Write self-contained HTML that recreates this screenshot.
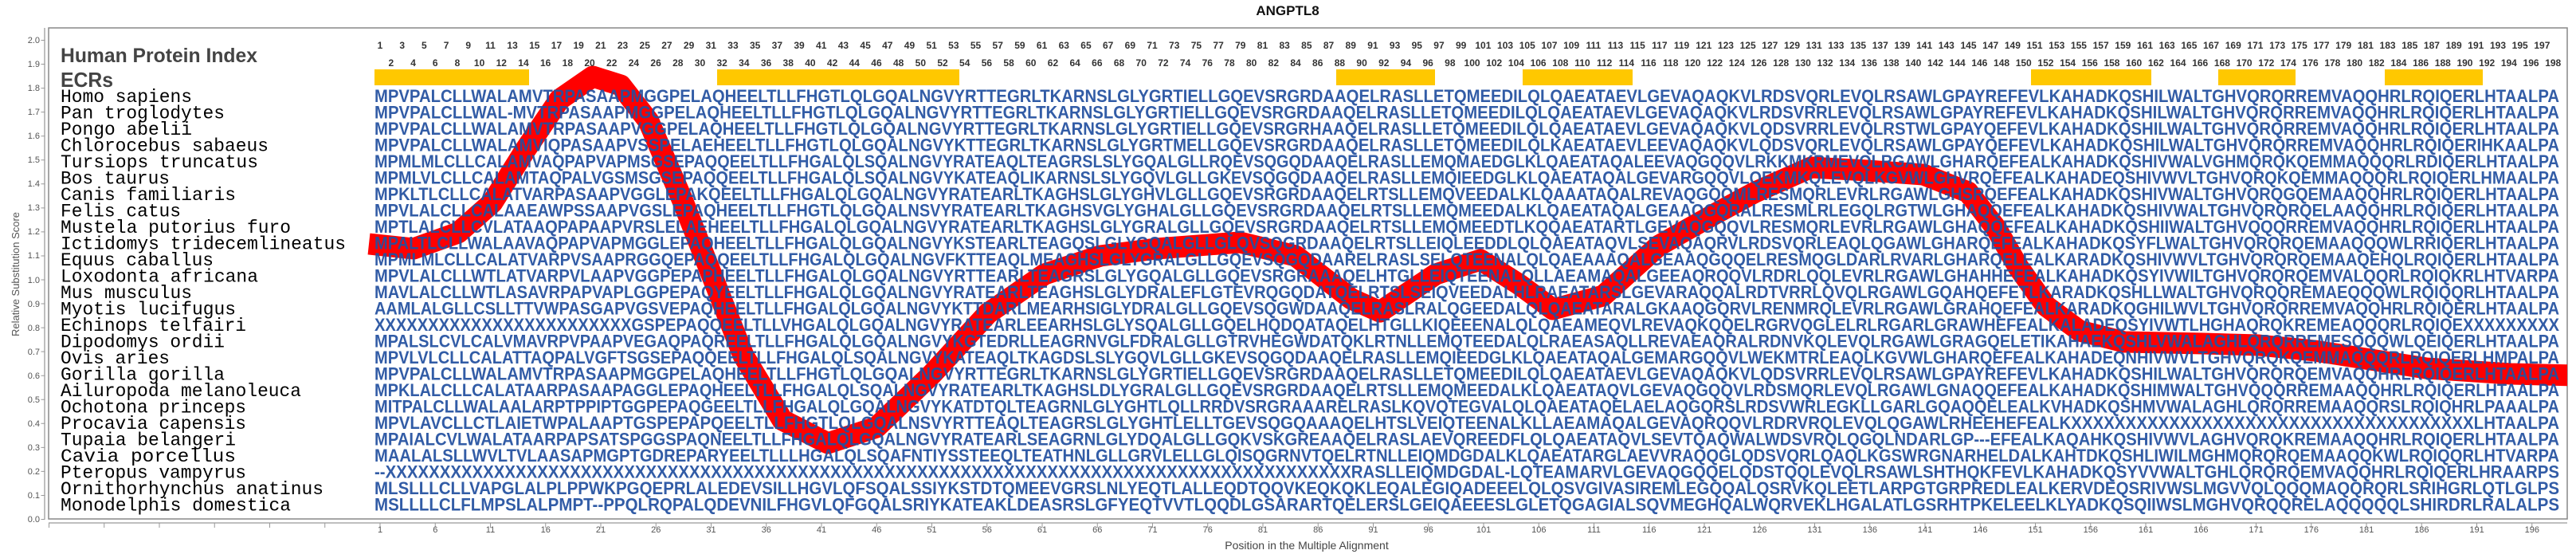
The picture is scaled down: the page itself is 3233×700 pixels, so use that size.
<!DOCTYPE html>
<html><head><meta charset="utf-8">
<style>
html,body{margin:0;padding:0;background:#fff;}
#w{position:relative;width:3233px;height:700px;overflow:hidden;}
svg{position:absolute;left:0;top:0;}
.lab{position:absolute;display:flex;font-family:"Liberation Sans",sans-serif;font-weight:bold;font-size:12px;color:#333;}
.lab span{display:block;width:27.7px;text-align:center;flex:none;}
.bl{position:absolute;display:flex;font-family:"Liberation Sans",sans-serif;font-size:11px;color:#555;top:659px;left:442.4px;}
.bl span{display:block;width:69.25px;text-align:center;flex:none;}
</style></head><body><div id="w">
<svg width="3233" height="700" viewBox="0 0 3233 700">
<defs><clipPath id="c"><rect x="61" y="35" width="3161" height="616"/></clipPath></defs>
<text x="1616" y="19" text-anchor="middle" font-family="Liberation Sans,sans-serif" font-weight="bold" font-size="17" fill="#111">ANGPTL8</text>
<rect x="61" y="35" width="3161" height="616" fill="none" stroke="#888" stroke-width="1.5"/>
<line x1="56" y1="35" x2="56" y2="651" stroke="#aaa" stroke-width="1.5"/>
<line x1="61" y1="656" x2="3222" y2="656" stroke="#aaa" stroke-width="1.5"/>
<line x1="54" y1="50" x2="54" y2="652" stroke="#999" stroke-width="5" stroke-dasharray="1 29.05"/>
<line x1="61" y1="659" x2="3190" y2="659" stroke="#999" stroke-width="6" stroke-dasharray="1 68.25"/>
<g font-family="Liberation Sans,sans-serif" font-size="11" fill="#555" text-anchor="end">
<text x="50" y="655">0.0</text><text x="50" y="625">0.1</text><text x="50" y="595">0.2</text><text x="50" y="565">0.3</text><text x="50" y="535">0.4</text><text x="50" y="505">0.5</text><text x="50" y="475">0.6</text><text x="50" y="445">0.7</text><text x="50" y="415">0.8</text><text x="50" y="385">0.9</text><text x="50" y="355">1.0</text><text x="50" y="324">1.1</text><text x="50" y="294">1.2</text><text x="50" y="264">1.3</text><text x="50" y="234">1.4</text><text x="50" y="204">1.5</text><text x="50" y="174">1.6</text><text x="50" y="144">1.7</text><text x="50" y="114">1.8</text><text x="50" y="84">1.9</text><text x="50" y="54">2.0</text>
</g>
<text transform="translate(24,344) rotate(-90)" text-anchor="middle" font-family="Liberation Sans,sans-serif" font-size="13" fill="#555">Relative Substitution Score</text>
<text x="1640" y="689" text-anchor="middle" font-family="Liberation Sans,sans-serif" font-size="14" fill="#444">Position in the Multiple Alignment</text>
<text x="76" y="78" textLength="247" lengthAdjust="spacingAndGlyphs" font-family="Liberation Sans,sans-serif" font-weight="bold" font-size="25" fill="#444">Human Protein Index</text>
<text x="76" y="109" textLength="66" lengthAdjust="spacingAndGlyphs" font-family="Liberation Sans,sans-serif" font-weight="bold" font-size="26" fill="#444">ECRs</text>
<g fill="#ffc800">
<rect x="470" y="87" width="194" height="20"/><rect x="900" y="87" width="304" height="20"/><rect x="1677" y="87" width="124" height="20"/><rect x="1911" y="87" width="138" height="20"/><rect x="2549" y="87" width="151" height="20"/><rect x="2784" y="87" width="97" height="20"/><rect x="2993" y="87" width="123" height="20"/>
</g>
<g clip-path="url(#c)">
<polyline fill="none" stroke="#ff0000" stroke-width="27" stroke-linejoin="round" points="463,306 519,312 575,292 618,254 660,187 702,125 744,96 779,107 814,152 856,250 898,357 933,446 982,527 1039,556 1100,536 1170,469 1240,393 1311,344 1381,321 1451,312 1556,304 1626,321 1696,375 1732,391 1802,344 1858,326 1907,357 1949,388 2012,371 2082,308 2153,268 2203,241 2273,210 2344,214 2414,219 2470,241 2505,286 2533,335 2568,384 2610,415 2666,429 2765,431 2835,433 2905,440 2975,451 3045,462 3151,469 3230,471"/>
</g>
<g font-family="Liberation Mono,DejaVu Sans Mono,monospace" font-size="23" fill="#000">
<text x="76" y="128" textLength="165" lengthAdjust="spacingAndGlyphs">Homo sapiens</text>
<text x="76" y="148.5" textLength="206" lengthAdjust="spacingAndGlyphs">Pan troglodytes</text>
<text x="76" y="169" textLength="165" lengthAdjust="spacingAndGlyphs">Pongo abelii</text>
<text x="76" y="189.5" textLength="261" lengthAdjust="spacingAndGlyphs">Chlorocebus sabaeus</text>
<text x="76" y="210" textLength="248" lengthAdjust="spacingAndGlyphs">Tursiops truncatus</text>
<text x="76" y="230.5" textLength="137" lengthAdjust="spacingAndGlyphs">Bos taurus</text>
<text x="76" y="251" textLength="220" lengthAdjust="spacingAndGlyphs">Canis familiaris</text>
<text x="76" y="271.5" textLength="151" lengthAdjust="spacingAndGlyphs">Felis catus</text>
<text x="76" y="292" textLength="289" lengthAdjust="spacingAndGlyphs">Mustela putorius furo</text>
<text x="76" y="312.5" textLength="358" lengthAdjust="spacingAndGlyphs">Ictidomys tridecemlineatus</text>
<text x="76" y="333" textLength="192" lengthAdjust="spacingAndGlyphs">Equus caballus</text>
<text x="76" y="353.5" textLength="248" lengthAdjust="spacingAndGlyphs">Loxodonta africana</text>
<text x="76" y="374" textLength="165" lengthAdjust="spacingAndGlyphs">Mus musculus</text>
<text x="76" y="394.5" textLength="220" lengthAdjust="spacingAndGlyphs">Myotis lucifugus</text>
<text x="76" y="415" textLength="233" lengthAdjust="spacingAndGlyphs">Echinops telfairi</text>
<text x="76" y="435.5" textLength="206" lengthAdjust="spacingAndGlyphs">Dipodomys ordii</text>
<text x="76" y="456" textLength="137" lengthAdjust="spacingAndGlyphs">Ovis aries</text>
<text x="76" y="476.5" textLength="206" lengthAdjust="spacingAndGlyphs">Gorilla gorilla</text>
<text x="76" y="497" textLength="302" lengthAdjust="spacingAndGlyphs">Ailuropoda melanoleuca</text>
<text x="76" y="517.5" textLength="233" lengthAdjust="spacingAndGlyphs">Ochotona princeps</text>
<text x="76" y="538" textLength="233" lengthAdjust="spacingAndGlyphs">Procavia capensis</text>
<text x="76" y="558.5" textLength="220" lengthAdjust="spacingAndGlyphs">Tupaia belangeri</text>
<text x="76" y="579" textLength="220" lengthAdjust="spacingAndGlyphs">Cavia porcellus</text>
<text x="76" y="599.5" textLength="233" lengthAdjust="spacingAndGlyphs">Pteropus vampyrus</text>
<text x="76" y="620" textLength="330" lengthAdjust="spacingAndGlyphs">Ornithorhynchus anatinus</text>
<text x="76" y="640.5" textLength="289" lengthAdjust="spacingAndGlyphs">Monodelphis domestica</text>
</g>
<g font-family="Liberation Sans,sans-serif" font-weight="bold" font-size="22" fill="#2350a0" opacity="0.93">
<text x="470" y="128" textLength="2742" lengthAdjust="spacingAndGlyphs">MPVPALCLLWALAMVTRPASAAPMGGPELAQHEELTLLFHGTLQLGQALNGVYRTTEGRLTKARNSLGLYGRTIELLGQEVSRGRDAAQELRASLLETQMEEDILQLQAEATAEVLGEVAQAQKVLRDSVQRLEVQLRSAWLGPAYREFEVLKAHADKQSHILWALTGHVQRQRREMVAQQHRLRQIQERLHTAALPA</text>
<text x="470" y="148.5" textLength="2742" lengthAdjust="spacingAndGlyphs">MPVPALCLLWAL-MVTRPASAAPMGGPELAQHEELTLLFHGTLQLGQALNGVYRTTEGRLTKARNSLGLYGRTIELLGQEVSRGRDAAQELRASLLETQMEEDILQLQAEATAEVLGEVAQAQKVLRDSVRRLEVQLRSAWLGPAYREFEVLKAHADKQSHILWALTGHVQRQRREMVAQQHRLRQIQERLHTAALPA</text>
<text x="470" y="169" textLength="2742" lengthAdjust="spacingAndGlyphs">MPVPALCLLWALAMVTRPASAAPVGGPELAQHEELTLLFHGTLQLGQALNGVYRTTEGRLTKARNSLGLYGRTIELLGQEVSRGRHAAQELRASLLETQMEEDILQLQAEATAEVLGEVAQAQKVLQDSVRRLEVQLRSTWLGPAYQEFEVLKAHADKQSHILWALTGHVQRQRREMVAQQHRLRQIQERLHTAALPA</text>
<text x="470" y="189.5" textLength="2742" lengthAdjust="spacingAndGlyphs">MPVPALCLLWALAMVIQPASAAPVSSPELAEHEELTLLFHGTLQLGQALNGVYKTTEGRLTKARNSLGLYGRTMELLGQEVSRGRDAAQELRASLLETQMEEDILQLKAEATAEVLEEVAQAQKVLQDSVQRLEVQLRSAWLGPAYQEFEVLKAHADKQSHILWALTGHVQRQRREMVAQQHRLRQIQERIHKAALPA</text>
<text x="470" y="210" textLength="2742" lengthAdjust="spacingAndGlyphs">MPMLMLCLLCALAMVAQPAPVAPMSGSEPAQQEELTLLFHGALQLSQALNGVYRATEAQLTEAGRSLSLYGQALGLLRQEVSQGQDAAQELRASLLEMQMAEDGLKLQAEATAQALEEVAQGQQVLRKKMKRMEVQLRGAWLGHARQEFEALKAHADKQSHIVWALVGHMQRQKQEMMAQQQRLRDIQERLHTAALPA</text>
<text x="470" y="230.5" textLength="2742" lengthAdjust="spacingAndGlyphs">MPMLVLCLLCALAMTAQPALVGSMSGSEPAQQEELTLLFHGALQLSQALNGVYKATEAQLIKARNSLSLYGQVLGLLGKEVSQGQDAAQELRASLLEMQIEEDGLKLQAEATAQALGEVARGQQVLQEKMKQLEVQLKGVWLGHVRQEFEALKAHADEQSHIVWVLTGHVQRQKQEMMAQQQRLRQIQERLHMAALPA</text>
<text x="470" y="251" textLength="2742" lengthAdjust="spacingAndGlyphs">MPKLTLCLLCALATVARPASAAPVGGLEPAKQEELTLLFHGALQLGQALNGVYRATEARLTKAGHSLGLYGHVLGLLGQEVSRGRDAAQELRTSLLEMQVEEDALKLQAAATAQALREVAQGQQMLRESMQRLEVRLRGAWLGHSRQEFEALKAHADKQSHIVWALTGHVQRQGQEMAAQQHRLRQIQERLHTAALPA</text>
<text x="470" y="271.5" textLength="2742" lengthAdjust="spacingAndGlyphs">MPVLALCLLCALAAEAWPSSAAPVGSLEPAQHEELTLLFHGTLQLGQALNSVYRATEARLTKAGHSVGLYGHALGLLGQEVSRGRDAAQELRTSLLEMQMEEDALKLQAEATAQALGEAAQGQRALRESMLRLEGQLRGTWLGHAQQEFEALKAHADKQSHIVWALTGHVQRQRQELAAQQHRLRQIQERLHTAALPA</text>
<text x="470" y="292" textLength="2742" lengthAdjust="spacingAndGlyphs">MPTLALCLLCVLATAAQPAPAAPVRSLELAEHEELTLLFHGALQLGQALNGVYRATEARLTKAGHSLGLYGRALGLLGQEVSRGRDAAQELRTSLLEMQMEEDTLKQQAEATARTLGEVAQGQQVLRESMQRLEVRLRGAWLGHAQQEFEALKAHADKQSHIIWALTGHVQQQRREMVAQQHRLRQIQERLHTAALPA</text>
<text x="470" y="312.5" textLength="2742" lengthAdjust="spacingAndGlyphs">MPALTLCLLWALAAVAQPAPVAPMGGLEPAQHEELTLLFHGALQLGQALNGVYKSTEARLTEAGQSLGLYGQALGLLGLQVSQGRDAAQELRTSLLEIQLEEDDLQLQAEATAQVLSEVAQAQRVLRDSVQRLEAQLQGAWLGHARQEFEALKAHADKQSYFLWALTGHVQRQRQEMAAQQQWLRRIQERLHTAALPA</text>
<text x="470" y="333" textLength="2742" lengthAdjust="spacingAndGlyphs">MPMLMLCLLCALATVARPVSAAPRGGQEPAQQEELTLLFHGALQLGQALNGVFKTTEAQLMEAGHSLGLYGRALGLLGQEVSQGQDAARELRASLSELQTEENALQLQAEAAAQALGEAAQGQQELRESMQGLDARLRVARLGHARQELEALKARADKQSHIVWVLTGHVQRQRQEMAAQEHQLRQIQERLHTAALPA</text>
<text x="470" y="353.5" textLength="2742" lengthAdjust="spacingAndGlyphs">MPVLALCLLWTLATVARPVLAAPVGGPEPAPHEELTLLFHGALQLGQALNGVYRTTEARLTEAGRSLGLYGQALGLLGQEVSRGRAAAQELHTGLLEIQTEENALQLLAEAMAQALGEEAQRQQVLRDRLQQLEVRLRGAWLGHAHHEFEALKAHADKQSYIVWILTGHVQRQRQEMVALQQRLRQIQKRLHTVARPA</text>
<text x="470" y="374" textLength="2742" lengthAdjust="spacingAndGlyphs">MAVLALCLLWTLASAVRPAPVAPLGGPEPAQYEELTLLFHGALQLGQALNGVYRATEARLTEAGHSLGLYDRALEFLGTEVRQGQDATQELRTSLSEIQVEEDALHLRAEATARSLGEVARAQQALRDTVRRLQVQLRGAWLGQAHQEFETLKARADKQSHLLWALTGHVQRQQREMAEQQQWLRQIQQRLHTAALPA</text>
<text x="470" y="394.5" textLength="2742" lengthAdjust="spacingAndGlyphs">AAMLALGLLCSLLTTVWPASGAPVGSVEPAQHEELTLLFHGALQLGQALNGVYKTTDARLMEARHSIGLYDRALGLLGQEVSQGWDAAQELRASLRALQGEEDALQLQAEATARALGKAAQGQRVLRENMRQLEVRLRGAWLGRAHQEFEALKARADKQGHILWVLTGHVQRQRREMVAQQHRLRQIQERLHTAALPA</text>
<text x="470" y="415" textLength="2742" lengthAdjust="spacingAndGlyphs">XXXXXXXXXXXXXXXXXXXXXXXXGSPEPAQQEELTLLVHGALQLGQALNGVYRATEARLEEARHSLGLYSQALGLLGQELHQDQATAQELHTGLLKIQEEENALQLQAEAMEQVLREVAQKQQELRGRVQGLELRLRGARLGRAWHEFEALKALADEQSYIVWTLHGHAQRQKREMEAQQQRLRQIQEXXXXXXXXX</text>
<text x="470" y="435.5" textLength="2742" lengthAdjust="spacingAndGlyphs">MPALSLCVLCALVMAVRPVPAAPVEGAQPAQREELTLLFHGALQLGQALNGVYKGTEDRLLEAGRNVGLFDRALGLLGTRVHEGWDATQKLRTNLLEMQTEEDALQLRAEASAQLLREVAEAQRALRDNVKQLEVQLRGAWLGRAGQELETIKAHAEKQSHLVWALAGHLQRQRREMESQQQWLQEIQERLHTAALPA</text>
<text x="470" y="456" textLength="2742" lengthAdjust="spacingAndGlyphs">MPVLVLCLLCALATTAQPALVGFTSGSEPAQQEELTLLFHGALQLSQALNGVYKATEAQLTKAGDSLSLYGQVLGLLGKEVSQGQDAAQELRASLLEMQIEEDGLKLQAEATAQALGEMARGQQVLWEKMTRLEAQLKGVWLGHARQEFEALKAHADEQNHIVWVLTGHVQRQKQEMMAQQQRLRQIQERLHMPALPA</text>
<text x="470" y="476.5" textLength="2742" lengthAdjust="spacingAndGlyphs">MPVPALCLLWALAMVTRPASAAPMGGPELAQHEELTLLFHGTLQLGQALNGVYRTTEGRLTKARNSLGLYGRTIELLGQEVSRGRDAAQELRASLLETQMEEDILQLQAEATAEVLGEVAQAQKVLQDSVRRLEVQLRSAWLGPAYREFEVLKAHADKQSHILWALTGHVQRQRQEMVAQQHRLRQIQERLHTAALPA</text>
<text x="470" y="497" textLength="2742" lengthAdjust="spacingAndGlyphs">MPKLALCLLCALATAARPASAAPAGGLEPAQHEELTLLFHGALQLSQALNGVYRATEARLTKAGHSLDLYGRALGLLGQEVSRGRDAAQELRTSLLEMQMEEDALKLQAEATAQVLGEVAQGQQVLRDSMQRLEVQLRGAWLGNAQQEFEALKAHADKQSHIMWALTGHVQQQRREMAAQQHRLRQIQERLHTAALPA</text>
<text x="470" y="517.5" textLength="2742" lengthAdjust="spacingAndGlyphs">MITPALCLLWALAALARPTPPIPTGGPEPAQGEELTLLFHGALQLGQALNGVYKATDTQLTEAGRNLGLYGHTLQLLRRDVSRGRAAARELRASLKQVQTEGVALQLQAEATAQELAELAQGQRSLRDSVWRLEGKLLGARLGQAQQELEALKVHADKQSHMVWALAGHLQRQRREMAAQQRSLRQIQHRLPAAALPA</text>
<text x="470" y="538" textLength="2742" lengthAdjust="spacingAndGlyphs">MPVLAVCLLCTLAIETWPALAAPTGSPEPAPQEELTLLFHGTLQLGQALNSVYRTTEAQLTEAGRSLGLYGHTLELLTGEVSQGQAAAQELHTSLVEIQTEENALKLLAEAMAQALGEVAQRQQVLRDRVRQLEVQLQGAWLRHEEHEFEALKXXXXXXXXXXXXXXXXXXXXXXXXXXXXXXXXXXXXXLHTAALPA</text>
<text x="470" y="558.5" textLength="2742" lengthAdjust="spacingAndGlyphs">MPAIALCVLWALATAARPAPSATSPGGSPAQNEELTLLFHGALQLGQALNGVYRATEARLSEAGRNLGLYDQALGLLGQKVSKGREAAQELRASLAEVQREEDFLQLQAEATAQVLSEVTQAQWALWDSVRQLQGQLNDARLGP---EFEALKAQAHKQSHIVWVLAGHVQRQKREMAAQQHRLRQIQERLHTAALPA</text>
<text x="470" y="579" textLength="2742" lengthAdjust="spacingAndGlyphs">MAALALSLLWVLTVLAASAPMGPTGDREPARYEELTLLLHGALQLSQAFNTIYSSTEEQLTEATHNLGLLGRVLELLGLQISQGRNVTQELRTNLLEIQMDGDALKLQAEATARGLAEVVRAQQGLQDSVQRLQAQLKGSWRGNARHELDALKAHTDKQSHLIWILMGHMQRQRQEMAAQQKWLRQIQQRLHTVARPA</text>
<text x="470" y="599.5" textLength="2742" lengthAdjust="spacingAndGlyphs">--XXXXXXXXXXXXXXXXXXXXXXXXXXXXXXXXXXXXXXXXXXXXXXXXXXXXXXXXXXXXXXXXXXXXXXXXXXXXXXXXXXXXXXXXXRASLLEIQMDGDAL-LQTEAMARVLGEVAQGQQELQDSTQQLEVQLRSAWLSHTHQKFEVLKAHADKQSYVVWALTGHLQRQRQEMVAQQHRLRQIQERLHRAARPS</text>
<text x="470" y="620" textLength="2742" lengthAdjust="spacingAndGlyphs">MLSLLLCLLVAPGLALPLPPWKPGQEPRLALEDEVSILLHGVLQFSQALSSIYKSTDTQMEEVGRSLNLYEQTLALLEQDTQQVKEQKQKLEQALEGIQADEEELQLQSVGIVASIREMLEGQQALQSRVKQLEETLARPGTGRPREDLEALKERVDEQSRIVWSLMGVVQLQQQMAQQRQRLSRIHGRLQTLGLPS</text>
<text x="470" y="640.5" textLength="2742" lengthAdjust="spacingAndGlyphs">MSLLLLCLFLMPSLALPMPT--PPQLRQPALQDEVNILFHGVLQFGQALSRIYKATEAKLDEASRSLGFYEQTVVTLQQDLGSARARTQELERSLGEIQAEEESLGLETQGAGIALSQVMEGHQALWQRVEKLHGALATLGSRHTPKELEELKLYADKQSQIIWSLMGHVQRQQRELAQQQQQLSHIRDRLRALALPS</text>
</g>
</svg>
<div class="lab" style="top:50px;left:463.15px;"><span>1</span><span>3</span><span>5</span><span>7</span><span>9</span><span>11</span><span>13</span><span>15</span><span>17</span><span>19</span><span>21</span><span>23</span><span>25</span><span>27</span><span>29</span><span>31</span><span>33</span><span>35</span><span>37</span><span>39</span><span>41</span><span>43</span><span>45</span><span>47</span><span>49</span><span>51</span><span>53</span><span>55</span><span>57</span><span>59</span><span>61</span><span>63</span><span>65</span><span>67</span><span>69</span><span>71</span><span>73</span><span>75</span><span>77</span><span>79</span><span>81</span><span>83</span><span>85</span><span>87</span><span>89</span><span>91</span><span>93</span><span>95</span><span>97</span><span>99</span><span>101</span><span>103</span><span>105</span><span>107</span><span>109</span><span>111</span><span>113</span><span>115</span><span>117</span><span>119</span><span>121</span><span>123</span><span>125</span><span>127</span><span>129</span><span>131</span><span>133</span><span>135</span><span>137</span><span>139</span><span>141</span><span>143</span><span>145</span><span>147</span><span>149</span><span>151</span><span>153</span><span>155</span><span>157</span><span>159</span><span>161</span><span>163</span><span>165</span><span>167</span><span>169</span><span>171</span><span>173</span><span>175</span><span>177</span><span>179</span><span>181</span><span>183</span><span>185</span><span>187</span><span>189</span><span>191</span><span>193</span><span>195</span><span>197</span></div>
<div class="lab" style="top:72px;left:477px;"><span>2</span><span>4</span><span>6</span><span>8</span><span>10</span><span>12</span><span>14</span><span>16</span><span>18</span><span>20</span><span>22</span><span>24</span><span>26</span><span>28</span><span>30</span><span>32</span><span>34</span><span>36</span><span>38</span><span>40</span><span>42</span><span>44</span><span>46</span><span>48</span><span>50</span><span>52</span><span>54</span><span>56</span><span>58</span><span>60</span><span>62</span><span>64</span><span>66</span><span>68</span><span>70</span><span>72</span><span>74</span><span>76</span><span>78</span><span>80</span><span>82</span><span>84</span><span>86</span><span>88</span><span>90</span><span>92</span><span>94</span><span>96</span><span>98</span><span>100</span><span>102</span><span>104</span><span>106</span><span>108</span><span>110</span><span>112</span><span>114</span><span>116</span><span>118</span><span>120</span><span>122</span><span>124</span><span>126</span><span>128</span><span>130</span><span>132</span><span>134</span><span>136</span><span>138</span><span>140</span><span>142</span><span>144</span><span>146</span><span>148</span><span>150</span><span>152</span><span>154</span><span>156</span><span>158</span><span>160</span><span>162</span><span>164</span><span>166</span><span>168</span><span>170</span><span>172</span><span>174</span><span>176</span><span>178</span><span>180</span><span>182</span><span>184</span><span>186</span><span>188</span><span>190</span><span>192</span><span>194</span><span>196</span><span>198</span></div>
<div class="bl"><span>1</span><span>6</span><span>11</span><span>16</span><span>21</span><span>26</span><span>31</span><span>36</span><span>41</span><span>46</span><span>51</span><span>56</span><span>61</span><span>66</span><span>71</span><span>76</span><span>81</span><span>86</span><span>91</span><span>96</span><span>101</span><span>106</span><span>111</span><span>116</span><span>121</span><span>126</span><span>131</span><span>136</span><span>141</span><span>146</span><span>151</span><span>156</span><span>161</span><span>166</span><span>171</span><span>176</span><span>181</span><span>186</span><span>191</span><span>196</span></div>
</div></body></html>
